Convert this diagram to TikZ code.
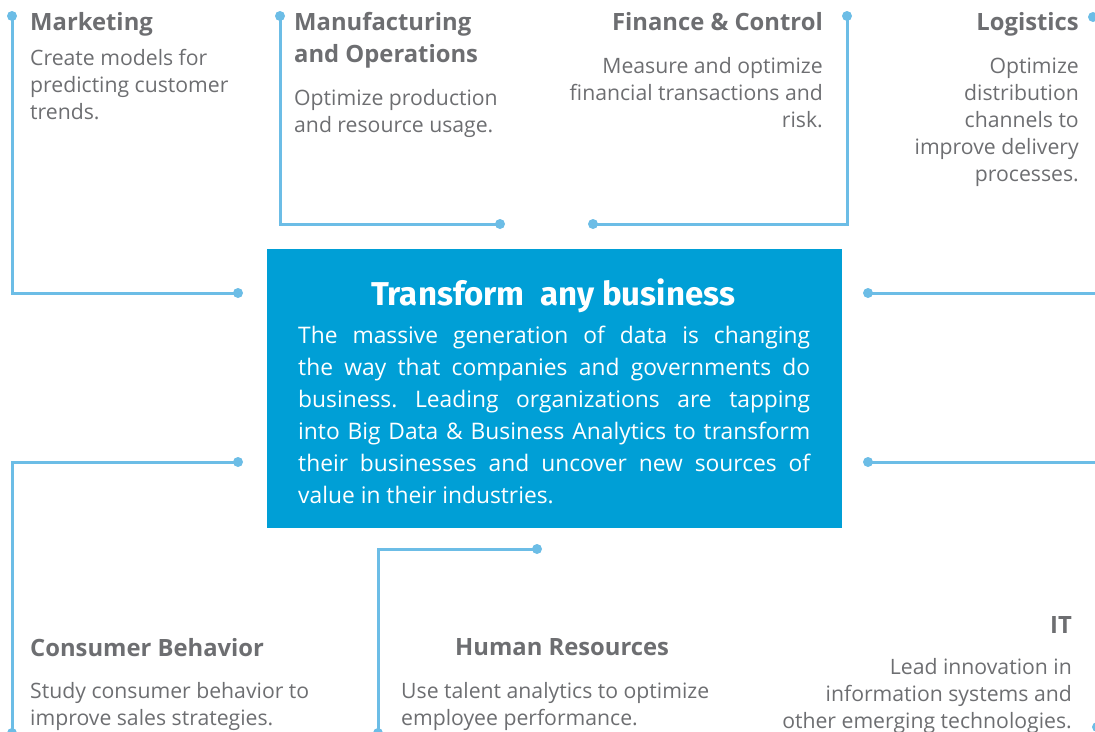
\documentclass[tikz,border=0pt]{standalone}
\usepackage{fontspec}
\setmainfont{Open Sans}
\newfontfamily\titlefont{Fira Sans}
\usetikzlibrary{positioning}

\definecolor{linkblue}{RGB}{108,189,230}
\definecolor{boxblue}{RGB}{0,159,214}
\definecolor{txtgray}{RGB}{109,110,113}

\tikzset{link/.style={linkblue, line width=3pt}}
\tikzset{dot/.style={circle, fill=linkblue, inner sep=0pt, minimum size=10pt}}
\tikzset{head/.style={text=txtgray, inner sep=0pt, font=\bfseries\fontsize{23.8}{32}\selectfont}}
\tikzset{desc/.style={text=txtgray, inner sep=0pt, font=\fontsize{21.2}{27}\selectfont}}

\begin{document}
\frenchspacing
\begin{tikzpicture}[x=1pt,y=-1pt]
\useasboundingbox (0,0) rectangle (1095,731);
\clip (0,0) rectangle (1095,731);

% centre box
\node[fill=boxblue, minimum width=575pt, minimum height=279pt, inner sep=0pt] (core) at (554.5,388.5) {};
\node[text=white, inner sep=0pt, anchor=base, font=\titlefont\bfseries\fontsize{33}{36}\selectfont] (title) at (553,305) {Transform\ \ any business};
\node[text=white, inner sep=0pt, anchor=base west, text width=512pt, align=justify, font=\fontsize{22.8}{32}\selectfont] (intro) at (298,343)
  {The massive generation of data is changing\linebreak
   the way that companies and governments do\linebreak
   business. Leading organizations are tapping\linebreak
   into Big Data \& Business Analytics to transform\linebreak
   their businesses and uncover new sources of\linebreak
   value in their industries.};

% top row (base anchor sits on the last line)
\node[head, anchor=base west] (mkt) at (30,30) {Marketing};
\node[desc, anchor=base west, align=left] (mktText) at (30,119) {Create models for\\predicting customer\\trends.};
\node[head, anchor=base west, align=left] (mfg) at (294,62) {Manufacturing\\and Operations};
\node[desc, anchor=base west, align=left] (mfgText) at (294,132) {Optimize production\\and resource usage.};
\node[head, anchor=base east] (fin) at (823,30) {Finance \& Control};
\node[desc, anchor=base east, align=right] (finText) at (823,127) {Measure and optimize\\financial transactions and\\risk.};
\node[head, anchor=base east] (log) at (1079,30) {Logistics};
\node[desc, anchor=base east, align=right] (logText) at (1079,181) {Optimize\\distribution\\channels to\\improve delivery\\processes.};

% bottom row
\node[head, anchor=base west] (cons) at (30,656) {Consumer Behavior};
\node[desc, anchor=base west, align=left] (consText) at (30,725) {Study consumer behavior to\\improve sales strategies.};
\node[head, anchor=base west] (hr) at (455,655) {Human Resources};
\node[desc, anchor=base west, align=left] (hrText) at (401,725) {Use talent analytics to optimize\\employee performance.};
\node[head, anchor=base east] (it) at (1072,633) {IT};
\node[desc, anchor=base east, align=right] (itText) at (1072,728) {Lead innovation in\\information systems and\\other emerging technologies.};

% dots
\node[dot] (mktTop) at (12,16) {};
\node[dot] (mktEnd) at (238,293) {};
\node[dot] (mfgTop) at (280,16) {};
\node[dot] (mfgEnd) at (500,224) {};
\node[dot] (finTop) at (847,16) {};
\node[dot] (finEnd) at (593,224) {};
\node[dot] (logTop) at (1093,17) {};
\node[dot] (rightA) at (868,293) {};
\node[dot] (rightB) at (868,462) {};
\node[dot] (consEnd) at (238,462) {};
\node[dot] (consBot) at (12,733) {};
\node[dot] (hrEnd) at (537,549) {};
\node[dot] (hrBot) at (378,733) {};
\node[dot] (itBot) at (1097,727) {};
\coordinate (edgeA) at (1110,293);
\coordinate (edgeB) at (1110,462);

% connectors
\draw[link] (mktTop.center) |- (mktEnd.center);
\draw[link] (mfgTop.center) |- (mfgEnd.center);
\draw[link] (finTop.center) |- (finEnd.center);
\draw[link] (rightA.center) -- (edgeA);
\draw[link] (rightB.center) -- (edgeB);
\draw[link] (consEnd.center) -| (consBot.center);
\draw[link] (hrEnd.center) -| (hrBot.center);
\end{tikzpicture}
\end{document}
